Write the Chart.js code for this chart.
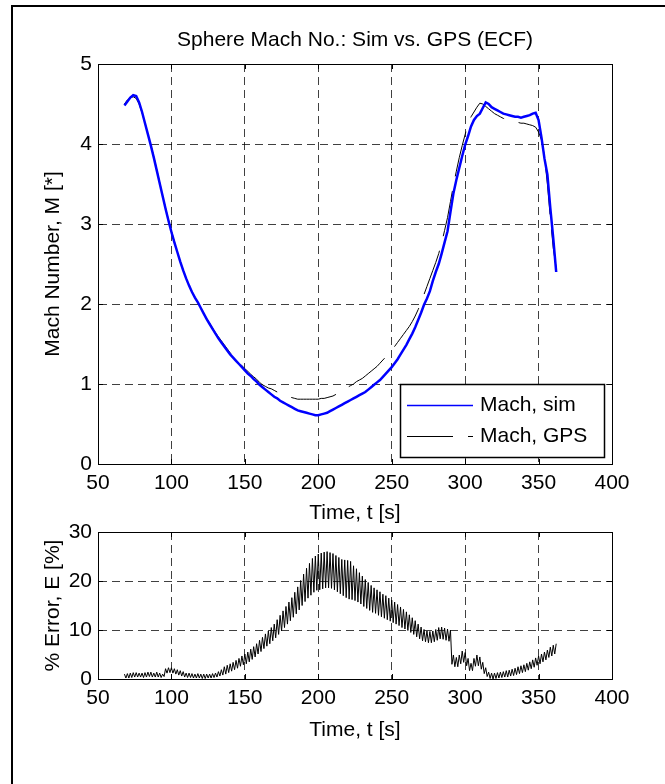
<!DOCTYPE html>
<html>
<head>
<meta charset="utf-8">
<script src="https://cdn.jsdelivr.net/npm/chart.js@4/dist/chart.umd.min.js"></script>
<style>
  html, body { margin: 0; padding: 0; background: #fff; }
  #wrap { position: relative; width: 665px; height: 784px; overflow: hidden; background: #fff; }
  #frame { position: absolute; left: 11px; top: 5px; width: 800px; height: 900px; border-left: 2px solid #000; border-top: 2px solid #000; }
  canvas { position: absolute; left: 0; }
  #c1 { top: 0; }
  #c2 { top: 500px; }
</style>
</head>
<body>
<div id="wrap">
  <div id="frame"></div>
  <canvas id="c1" width="665" height="540"></canvas>
  <canvas id="c2" width="665" height="284"></canvas>
</div>
<script>
// ---- data ----
const timeS = [68,70,72,74,76,78,80,82,84,86,88,90,92,94,96,98,100,102,104,106,108,110,112,114,116,118,120,122,124,126,128,130,132,134,136,138,140,142,144,146,148,150,152,154,156,158,160,162,164,166,168,170,172,174,176,178,180,182,184,186,188,190,192,194,196,198,200,202,204,206,208,210,212,214,216,218,220,222,224,226,228,230,232,234,236,238,240,242,244,246,248,250,252,254,256,258,260,262,264,266,268,270,272,274,276,278,280,282,284,286,288,290,292,294,296,298,300,302,304,306,308,310,312,314,316,318,320,322,324,326,328,330,332,334,336,338,340,342,344,346,348,350,352,354,356,358,360,362];

const machSim = [4.48,4.53,4.58,4.61,4.60,4.52,4.40,4.26,4.12,3.98,3.83,3.67,3.51,3.35,3.19,3.04,2.90,2.77,2.65,2.53,2.42,2.32,2.23,2.15,2.08,2.02,1.95,1.88,1.81,1.75,1.69,1.63,1.57,1.52,1.47,1.42,1.37,1.33,1.29,1.25,1.21,1.17,1.13,1.10,1.06,1.03,0.99,0.96,0.93,0.90,0.87,0.84,0.82,0.79,0.77,0.75,0.73,0.71,0.69,0.67,0.66,0.65,0.64,0.63,0.62,0.61,0.61,0.62,0.63,0.64,0.66,0.68,0.70,0.72,0.74,0.76,0.78,0.80,0.82,0.84,0.86,0.88,0.90,0.93,0.96,0.99,1.02,1.05,1.09,1.13,1.17,1.21,1.26,1.31,1.37,1.43,1.49,1.56,1.63,1.71,1.80,1.89,1.99,2.07,2.16,2.29,2.40,2.50,2.63,2.77,2.91,3.15,3.38,3.55,3.70,3.85,3.99,4.10,4.22,4.30,4.35,4.38,4.45,4.52,4.50,4.46,4.44,4.42,4.40,4.38,4.37,4.36,4.35,4.34,4.34,4.33,4.34,4.35,4.36,4.38,4.39,4.30,4.08,3.82,3.62,3.20,2.82,2.40];

const machGps = [4.50,4.55,4.58,4.59,4.57,4.50,4.39,4.26,4.13,3.99,3.84,3.68,3.52,3.36,3.20,3.05,2.91,2.78,2.65,2.53,2.42,2.32,2.23,2.15,2.08,2.01,1.94,1.88,1.82,1.76,1.70,1.64,1.59,1.54,1.49,1.44,1.39,1.35,1.31,1.27,1.23,1.19,1.16,1.12,1.09,1.06,1.02,0.99,0.97,0.95,0.94,0.92,0.90,0.88,0.87,0.85,0.84,0.83,0.82,0.81,0.81,0.81,0.81,0.81,0.81,0.81,0.81,0.82,0.82,0.83,0.84,0.85,0.87,0.89,0.91,0.93,0.96,0.98,1.00,1.03,1.05,1.07,1.10,1.13,1.16,1.19,1.22,1.26,1.30,1.34,1.38,1.42,1.47,1.52,1.57,1.62,1.67,1.72,1.78,1.85,1.93,2.02,2.12,2.22,2.32,2.42,2.52,2.63,2.76,2.92,3.08,3.28,3.48,3.66,3.83,3.98,4.12,4.25,4.34,4.40,4.46,4.51,4.50,4.47,4.44,4.41,4.38,4.36,4.34,4.32,4.31,4.30,4.29,4.28,4.27,4.26,4.26,4.25,4.24,4.23,4.21,4.15,4.05,3.85,3.50,3.08,2.70,2.45];

const timeE = [68,69,70,71,72,73,74,75,76,77,78,79,80,81,82,83,84,85,86,87,88,89,90,91,92,93,94,95,96,97,98,99,100,101,102,103,104,105,106,107,108,109,110,111,112,113,114,115,116,117,118,119,120,121,122,123,124,125,126,127,128,129,130,131,132,133,134,135,136,137,138,139,140,141,142,143,144,145,146,147,148,149,150,151,152,153,154,155,156,157,158,159,160,161,162,163,164,165,166,167,168,169,170,171,172,173,174,175,176,177,178,179,180,181,182,183,184,185,186,187,188,189,190,191,192,193,194,195,196,197,198,199,200,201,202,203,204,205,206,207,208,209,210,211,212,213,214,215,216,217,218,219,220,221,222,223,224,225,226,227,228,229,230,231,232,233,234,235,236,237,238,239,240,241,242,243,244,245,246,247,248,249,250,251,252,253,254,255,256,257,258,259,260,261,262,263,264,265,266,267,268,269,270,271,272,273,274,275,276,277,278,279,280,281,282,283,284,285,286,287,288,289,290,291,292,293,294,295,296,297,298,299,300,301,302,303,304,305,306,307,308,309,310,311,312,313,314,315,316,317,318,319,320,321,322,323,324,325,326,327,328,329,330,331,332,333,334,335,336,337,338,339,340,341,342,343,344,345,346,347,348,349,350,351,352,353,354,355,356,357,358,359,360,361,362];

const errorPct = [
1.0,0.2,1.1,0.2,1.2,0.3,1.3,0.4,1.3,0.4,
1.2,0.4,1.2,0.3,1.3,0.4,1.4,0.5,1.4,0.4,
1.2,0.4,1.4,0.4,1.2,0.3,1.0,0.5,2.1,1.2,
2.3,1.3,2.3,1.2,2.1,1.0,1.9,0.8,1.7,0.6,
1.5,0.4,1.2,0.3,1.2,0.3,1.1,0.2,1.0,0.2,
1.1,0.2,1.0,0.1,1.0,0.1,1.0,0.2,1.0,0.2,
1.1,0.3,1.2,0.4,1.5,0.6,1.9,0.8,2.5,1.0,
2.8,1.3,3.1,1.6,3.4,1.9,3.8,2.2,4.2,2.6,
4.7,2.9,5.1,3.1,5.5,3.5,6.1,4.0,6.6,4.5,
7.2,5.1,7.9,5.6,8.5,6.2,9.2,6.7,9.8,7.2,
10.5,7.8,11.2,8.4,12.1,9.1,13.0,9.8,13.9,10.5,
14.8,11.2,15.7,11.9,16.6,12.6,17.7,13.3,18.8,14.1,
20.1,15.0,21.4,15.8,22.6,16.5,23.6,17.1,24.6,17.7,
25.1,18.1,25.5,18.2,25.7,18.4,25.9,18.6,26.0,18.6,
25.8,18.5,25.6,18.2,25.2,17.8,24.8,17.4,24.4,17.0,
24.3,16.6,24.2,16.3,24.0,16.2,23.1,16.0,22.5,15.7,
21.7,15.3,21.0,14.8,20.3,14.4,19.7,14.0,19.1,13.6,
18.6,13.4,18.2,13.0,17.8,12.7,17.3,12.4,17.0,12.1,
16.5,11.8,16.1,11.5,15.7,11.2,15.2,10.9,14.7,10.5,
14.2,10.2,13.7,9.9,13.1,9.5,12.5,9.1,11.9,8.6,
11.2,8.2,10.6,7.8,10.1,7.6,9.8,7.4,9.7,7.4,
9.8,7.6,10.1,7.9,10.5,8.2,10.6,8.1,10.4,7.9,
10.2,7.7,10.0,3.0,4.9,2.5,4.4,2.5,4.9,3.1,
5.7,3.4,5.4,2.7,4.2,1.7,3.2,1.7,4.2,2.6,
4.9,2.7,4.5,2.0,3.4,1.1,2.3,0.5,1.4,0.1,
1.2,0.0,1.2,0.1,1.3,0.2,1.4,0.3,1.5,0.4,
1.7,0.4,1.8,0.6,2.0,0.7,2.2,0.9,2.5,1.1,
2.7,1.3,2.9,1.5,3.2,1.8,3.5,2.1,3.9,2.4,
4.3,2.8,4.7,3.1,5.1,3.5,5.5,3.9,5.9,4.4,
6.5,4.7,6.9,5.1,7.2];

const xTicks = [50,100,150,200,250,300,350,400];
const machTicks = [0,1,2,3,4,5];
const errorTicks = [0,10,20,30];
const legendLabels = ['Mach, sim', 'Mach, GPS'];
const titleText = 'Sphere Mach No.: Sim vs. GPS (ECF)';

// ---- styling ----
const FONT = "'Liberation Sans', Arial, Helvetica, sans-serif";
const FS = 21;
Chart.defaults.font.family = FONT;
Chart.defaults.font.size = FS;
Chart.defaults.color = '#000';

const gridStyle = { color: 'rgba(0,0,0,0.75)', lineWidth: 1, drawTicks: false };

// axes box + inner tick marks (MATLAB style)
const boxPlugin = {
  id: 'boxTicks',
  afterDatasetsDraw(chart) {
    const { ctx, chartArea: a, scales } = chart;
    ctx.save();
    ctx.strokeStyle = '#000';
    ctx.lineWidth = 1;
    ctx.strokeRect(Math.round(a.left) + 0.5, Math.round(a.top) + 0.5, Math.round(a.right - a.left), Math.round(a.bottom - a.top));
    const L = 5;
    ctx.beginPath();
    scales.x.ticks.forEach(t => {
      const px = Math.round(scales.x.getPixelForValue(t.value)) + 0.5;
      ctx.moveTo(px, a.bottom); ctx.lineTo(px, a.bottom - L);
      ctx.moveTo(px, a.top); ctx.lineTo(px, a.top + L);
    });
    scales.y.ticks.forEach(t => {
      const py = Math.round(scales.y.getPixelForValue(t.value)) + 0.5;
      ctx.moveTo(a.left, py); ctx.lineTo(a.left + L, py);
      ctx.moveTo(a.right, py); ctx.lineTo(a.right - L, py);
    });
    ctx.stroke();
    ctx.restore();
  }
};

const legendPlugin = {
  id: 'boxLegend',
  afterDraw(chart) {
    const { ctx } = chart;
    const ds = chart.data.datasets;
    const x0 = 400, y0 = 384, w = 204, h = 73;
    ctx.save();
    ctx.fillStyle = '#fff';
    ctx.fillRect(x0, y0, w, h);
    ctx.strokeStyle = '#000';
    ctx.lineWidth = 1.5;
    ctx.strokeRect(x0 + 0.5, y0 + 0.5, w, h);
    ctx.font = FS + 'px ' + FONT;
    ctx.textBaseline = 'middle';
    ctx.textAlign = 'left';
    const rows = [405, 436];
    ds.forEach((d, i) => {
      ctx.beginPath();
      ctx.strokeStyle = d.borderColor;
      ctx.lineWidth = i === 0 ? 1.5 : 1;
      ctx.setLineDash(d.borderDash || []);
      ctx.moveTo(407, rows[i] + 0.5);
      ctx.lineTo(473, rows[i] + 0.5);
      ctx.stroke();
      ctx.setLineDash([]);
      ctx.fillStyle = '#000';
      ctx.fillText(d.label, 480, rows[i]);
    });
    ctx.restore();
  }
};

function xScale(height, titlePadBottom) {
  return {
    type: 'linear', min: 50, max: 400,
    afterBuildTicks: s => { s.ticks = xTicks.map(v => ({ value: v })); },
    afterFit: s => { s.height = height; },
    ticks: { padding: 7, font: { size: FS }, color: '#000' },
    grid: Object.assign({}, gridStyle),
    border: { display: true, color: '#000', width: 1, dash: [8,5] },
    title: { display: true, text: 'Time, t [s]', font: { size: FS }, color: '#000', padding: { top: 0, bottom: titlePadBottom } }
  };
}
function yScale(min, max, ticksArr, titleText) {
  return {
    type: 'linear', min: min, max: max,
    afterBuildTicks: s => { s.ticks = ticksArr.map(v => ({ value: v })); },
    afterFit: s => { s.width = 98; },
    ticks: { padding: 6, font: { size: FS }, color: '#000' },
    grid: Object.assign({}, gridStyle),
    border: { display: true, color: '#000', width: 1, dash: [8,5] },
    title: { display: true, text: titleText, font: { size: FS }, color: '#000', padding: { top: 40.4, bottom: 0 } }
  };
}

new Chart(document.getElementById('c1'), {
  type: 'line',
  data: {
    datasets: [
      { label: legendLabels[0], data: timeS.map((t, i) => ({ x: t, y: machSim[i] })), borderColor: '#0000ff', borderWidth: 2.5, pointRadius: 0, tension: 0 },
      { label: legendLabels[1], data: timeS.map((t, i) => ({ x: t, y: machGps[i] })), borderColor: '#000000', borderWidth: 1, borderDash: [46, 15], pointRadius: 0, tension: 0 }
    ]
  },
  options: {
    responsive: false, animation: false, devicePixelRatio: 1,
    layout: { padding: { left: 0, right: 53, top: 0, bottom: 0 } },
    plugins: {
      legend: { display: false },
      tooltip: { enabled: false },
      title: { display: true, text: titleText, fullSize: false, color: '#000', font: { size: FS, weight: 'normal' }, padding: { top: 27.4, bottom: 11.4 } }
    },
    scales: { x: xScale(76, 14.4), y: yScale(0, 5, machTicks, 'Mach Number, M [*]') }
  },
  plugins: [boxPlugin, legendPlugin]
});

new Chart(document.getElementById('c2'), {
  type: 'line',
  data: {
    datasets: [
      { label: '% Error', data: timeE.map((t, i) => ({ x: t, y: errorPct[i] })), borderColor: '#000000', borderWidth: 1, pointRadius: 0, tension: 0 }
    ]
  },
  options: {
    responsive: false, animation: false, devicePixelRatio: 1,
    layout: { padding: { left: 0, right: 53, top: 32, bottom: 0 } },
    plugins: { legend: { display: false }, tooltip: { enabled: false } },
    scales: { x: xScale(105, 41.4), y: yScale(0, 30, errorTicks, '% Error, E [%]') }
  },
  plugins: [boxPlugin]
});
</script>
</body>
</html>
